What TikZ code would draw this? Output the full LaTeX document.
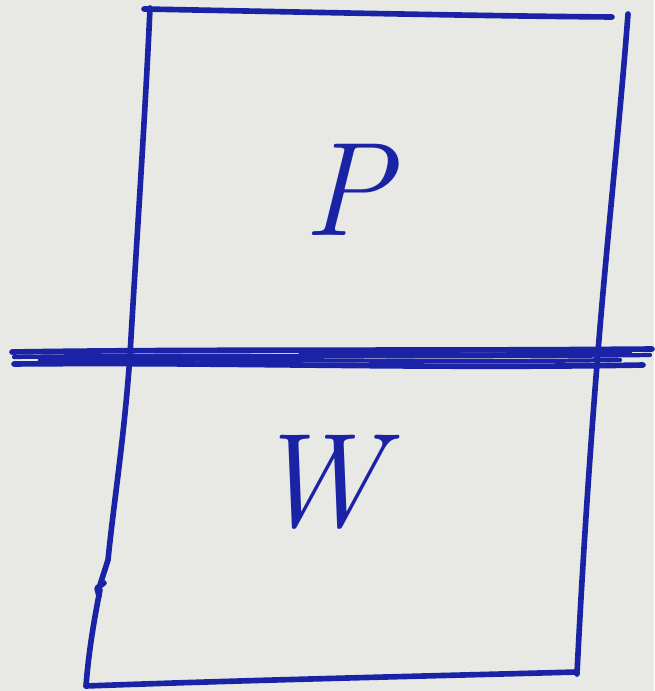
\documentclass[tikz,border=0pt]{standalone}
\usepackage{fontspec}
\definecolor{paper}{HTML}{E8E8E5}
\definecolor{ink}{HTML}{1A22A6}
\tikzset{
  pen/.style={draw=ink, line width=1.6pt, line cap=round, line join=round},
  thinpen/.style={draw=ink, line width=1.2pt, line cap=round, line join=round},
  letter/.style={text=ink, font=\fontsize{38}{40}\selectfont\itshape, inner sep=0pt}
}
\begin{document}
\begin{tikzpicture}[x=0.01cm, y=-0.01cm]
  \fill[paper] (0,0) rectangle (654,691);
  \useasboundingbox (0,0) rectangle (654,691);
  % top edge
  \draw[pen] (144,9) .. controls (300,12) and (480,16) .. (612,17);
  % left edge with small hook
  \draw[pen] (150,8) .. controls (145,120) and (136,250) .. (130,355)
             .. controls (124,440) and (114,500) .. (108,560) -- (100,585);
  \draw[pen] (104,583) -- (97,588) -- (99,596);
  \draw[pen] (100,590) .. controls (92,630) and (88,660) .. (86,686);
  % bottom edge
  \draw[pen] (86,686) .. controls (250,680) and (430,676) .. (577,672);
  % right edge
  \draw[pen] (628,14) .. controls (620,120) and (606,250) .. (598,352)
             .. controls (590,450) and (582,570) .. (577,674);
  % divider: several overlapping strokes
  \draw[pen] (12,352) .. controls (200,349) and (420,351) .. (652,349);
  \draw[thinpen] (14,357) .. controls (200,354) and (430,358) .. (650,355);
  \draw[pen] (14,364) .. controls (220,362) and (420,369) .. (643,365);
  \draw[thinpen] (40,360) .. controls (230,358) and (420,363) .. (620,360);
  \draw[thinpen] (300,355) .. controls (400,354) and (500,356) .. (630,352);
  % labels
  \node[letter] (P) at (348,190) {P};
  \node[letter] (W) at (318,482) {W};
\end{tikzpicture}
\end{document}
